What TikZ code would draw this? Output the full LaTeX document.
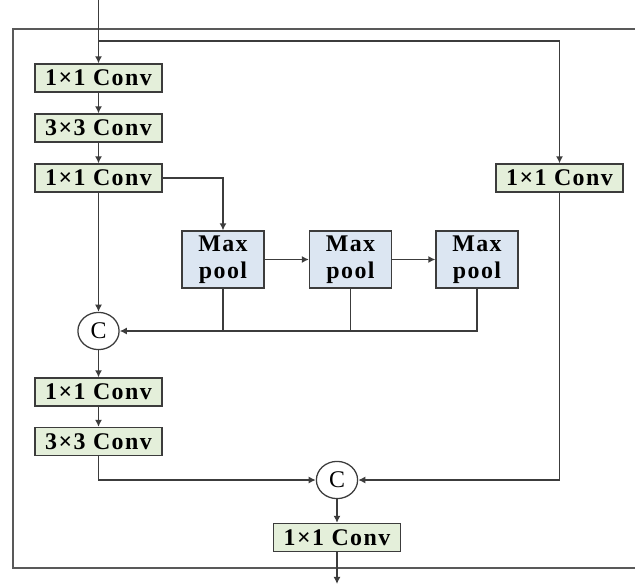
\documentclass[tikz,border=0pt]{standalone}
\usepackage{fontspec}
\setmainfont{Liberation Serif}
\newfontfamily\boxfont[LetterSpace=6]{Liberation Serif}
\usetikzlibrary{arrows.meta,shapes.geometric}
\definecolor{convfill}{HTML}{E4EFDA}
\definecolor{poolfill}{HTML}{DCE6F2}
\definecolor{edgegray}{HTML}{3C3C3C}
\tikzset{
  conv/.style={draw=edgegray, line width=0.9pt, fill=convfill, minimum width=3.175cm,
    minimum height=0.7cm, inner sep=0pt, font=\boxfont\fontsize{17}{19}\selectfont\bfseries},
  pool/.style={draw=edgegray, line width=0.9pt, fill=poolfill, minimum width=2.05cm,
    minimum height=1.425cm, inner sep=0pt, align=center, font=\boxfont\fontsize{17}{19.5}\selectfont\bfseries},
  cat/.style={draw=edgegray, line width=0.9pt, ellipse, fill=white, minimum width=1.03cm,
    minimum height=0.93cm, inner sep=0pt, font=\fontsize{17}{19}\selectfont},
  frame/.style={draw=edgegray!85, line width=1pt}
}
\begin{document}
\begin{tikzpicture}[x=0.025cm,y=-0.025cm,line width=1pt,draw=edgegray,
    >={Latex[length=5pt,width=5pt]}]
    \useasboundingbox (0,0) rectangle (635,584);
    \draw[frame] (640,29) -| (13,568) -- (640,568);

    \coordinate (in) at (98.5,0);
    \coordinate (split) at (98.5,41);
    \coordinate (out) at (337,584);

    \node[conv] (conv1) at (98.5,78){1×1 Conv};
    \node[conv] (conv2) at (98.5,128){3×3 Conv};
    \node[conv] (conv3) at (98.5,178){1×1 Conv};
    \node[conv] (convR) at (559.5,178){1×1 Conv};
    \node[pool] (pool1) at (223,259.5){Max\\pool};
    \node[pool] (pool2) at (350.5,259.5){Max\\pool};
    \node[pool] (pool3) at (477,259.5){Max\\pool};
    \node[cat] (cat1) at (98.5,331){C};
    \node[conv] (conv4) at (98.5,392){1×1 Conv};
    \node[conv] (conv5) at (98.5,441.5){3×3 Conv};
    \node[cat] (cat2) at (337,480){C};
    \node[conv] (conv6) at (337,537.5){1×1 Conv};

    \draw (in) edge[->] (conv1);
    \draw[->] (split) -| (convR);
    \draw (conv1) edge[->] (conv2);
    \draw (conv2) edge[->] (conv3);
    \draw[->] (conv3) -| (pool1);
    \draw (pool1) edge[->] (pool2);
    \draw (pool2) edge[->] (pool3);
    \draw (conv3) edge[->] (cat1);
    \draw (pool1) -- (pool1 |- cat1);
    \draw (pool2) -- (pool2 |- cat1);
    \draw[->] (pool3) |- (cat1);
    \draw (cat1) edge[->] (conv4);
    \draw (conv4) edge[->] (conv5);
    \draw[->] (conv5) |- (cat2);
    \draw[->] (convR) |- (cat2);
    \draw (cat2) edge[->] (conv6);
    \draw (conv6) edge[->] (out);
  \end{tikzpicture}
\end{document}
